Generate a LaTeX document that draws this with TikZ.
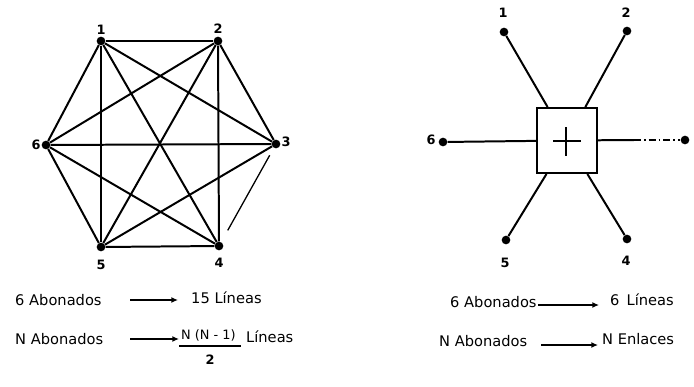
\documentclass[tikz,border=0pt]{standalone}
\usepackage{fontspec}
\setmainfont{DejaVu Sans}
\usetikzlibrary{arrows.meta}

\tikzset{
  punto/.style={circle,fill,inner sep=0pt,minimum size=2.6mm},
  numero/.style={font=\fontsize{11}{13}\selectfont\bfseries},
  texto/.style={anchor=west,font=\fontsize{12.5}{15}\selectfont,inner sep=0pt},
  linea/.style={line width=1.7pt},
  flecha/.style={line width=1.4pt,-{Latex[length=2mm,width=1.8mm]}},
}

\begin{document}
\begin{tikzpicture}[x=0.03cm,y=-0.03cm]
    \useasboundingbox (0,0) rectangle (694,386);
    % malla completa
    \node[punto] (n1) at (101,41) {};
    \node[punto] (n2) at (218,41) {};
    \node[punto] (n3) at (276,144) {};
    \node[punto] (n4) at (219,246) {};
    \node[punto] (n5) at (101,247) {};
    \node[punto] (n6) at (46,145) {};
    \node[numero] (e1) at (101,30) {1};
    \node[numero] (e2) at (218,29) {2};
    \node[numero] (e3) at (286,142) {3};
    \node[numero] (e4) at (219,263) {4};
    \node[numero] (e5) at (101,265) {5};
    \node[numero] (e6) at (36,145) {6};
    \foreach \a/\b in {1/2,1/3,1/4,1/5,1/6,2/3,2/4,2/5,2/6,3/5,3/6,4/5,4/6,5/6}
        \draw[linea] (n\a) -- (n\b);
    \draw[line width=1.1pt,shorten <=2.5mm,shorten >=4mm] (n3) -- (n4);

    % central
    \node[draw,linea,minimum width=1.8cm,minimum height=1.95cm] (centro) at (567,140.5) {};
    \draw[linea] (553,141) -- (581,141);
    \draw[linea] (566,127) -- (566,156);
    \node[punto] (m1) at (504,32) {};
    \node[punto] (m2) at (627,31) {};
    \node[punto] (m4) at (627,239) {};
    \node[punto] (m5) at (506,240) {};
    \node[punto] (m6) at (443,142) {};
    \node[punto] (mder) at (685,140) {};
    \node[numero] (f1) at (503,13) {1};
    \node[numero] (f2) at (626,13) {2};
    \node[numero] (f4) at (626,261) {4};
    \node[numero] (f5) at (505,263) {5};
    \node[numero] (f6) at (431,140) {6};
    \foreach \m in {1,2,4,5,6}
        \draw[linea] (m\m) -- (centro);
    \coordinate (medio) at (634,140);
    \draw[linea] (centro) -- (medio);
    \draw[linea,dash pattern=on 6pt off 2.5pt on 1.5pt off 2.5pt] (medio) -- (mder);

    % textos
    \node[texto] (ab6) at (15,300) {6 Abonados};
    \node[texto] (li15) at (191,298) {15 Líneas};
    \coordinate (a1) at (130,300);
    \coordinate (b1) at (178,300);
    \draw[flecha] (a1) -- (b1);
    \node[texto] (abN) at (15,339) {N Abonados};
    \node[texto,font=\fontsize{11}{13}\selectfont] (num) at (181,335) {N (N - 1)};
    \draw[line width=1.1pt] (179,346) -- (241,346);
    \node[numero] (den) at (210,360) {2};
    \node[texto] (liN) at (246,337) {Líneas};
    \coordinate (a2) at (130,339);
    \coordinate (b2) at (179,339);
    \draw[flecha] (a2) -- (b2);

    \node[texto] (ab6b) at (450,302) {6 Abonados};
    \node[texto] (li6) at (610,300) {6 \,Líneas};
    \coordinate (a3) at (538,305);
    \coordinate (b3) at (599,305);
    \draw[flecha] (a3) -- (b3);
    \node[texto] (abNb) at (439,341) {N Abonados};
    \node[texto] (enl) at (602,339) {N Enlaces};
    \coordinate (a4) at (541,345);
    \coordinate (b4) at (598,345);
    \draw[flecha] (a4) -- (b4);
\end{tikzpicture}
\end{document}
